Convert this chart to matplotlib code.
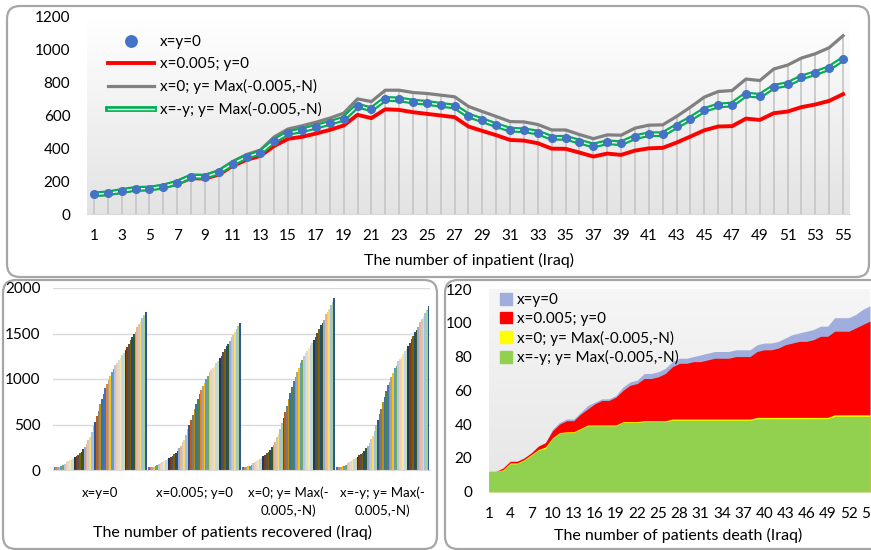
import numpy as np
import matplotlib.pyplot as plt
import matplotlib.patheffects as pe
from matplotlib.colors import LinearSegmentedColormap
from matplotlib.patches import FancyBboxPatch, Patch

plt.rcParams['font.family'] = ['Lato', 'DejaVu Sans']

W, H = 871, 550

days = np.arange(1, 56)

labels = ['x=y=0', 'x=0.005; y=0', 'x=0; y= Max(-0.005,-N)', 'x=-y; y= Max(-0.005,-N)']

# Inpatients per day, one list per scenario
inpatient_xy0 = [120, 126, 140, 153, 155, 167, 191, 228, 226, 254, 307, 348, 374, 445, 494,
                 510, 531, 555, 580, 660, 638, 701, 698, 685, 677, 665, 655, 600, 571, 541,
                 514, 510, 496, 464, 464, 441, 417, 437, 431, 468, 486, 486, 535, 581, 634,
                 661, 667, 728, 720, 775, 791, 832, 858, 889, 944]
inpatient_x005 = [117, 122, 136, 150, 152, 163, 185, 218, 216, 240, 293, 330, 354, 415, 458,
                  470, 490, 512, 539, 604, 584, 638, 634, 620, 610, 600, 590, 533, 506, 480,
                  451, 447, 431, 398, 397, 374, 350, 368, 360, 386, 400, 403, 435, 472, 510,
                  533, 535, 581, 573, 614, 624, 651, 667, 689, 730]
inpatient_ymax = [124, 131, 146, 159, 161, 174, 199, 236, 236, 264, 320, 362, 390, 470, 518,
                  537, 559, 584, 614, 701, 685, 754, 754, 740, 734, 724, 714, 655, 624, 594,
                  563, 561, 545, 512, 512, 484, 459, 482, 480, 523, 541, 543, 594, 651, 712,
                  746, 752, 822, 813, 883, 907, 950, 976, 1013, 1086]
inpatient_xmy = [120, 126, 140, 153, 155, 167, 191, 228, 226, 254, 307, 348, 374, 445, 494,
                 510, 531, 555, 580, 660, 638, 701, 698, 685, 677, 665, 655, 600, 571, 541,
                 514, 510, 496, 464, 464, 441, 417, 437, 431, 468, 486, 486, 535, 581, 634,
                 661, 667, 728, 720, 775, 791, 832, 858, 889, 944]

# Cumulative recovered patients, 55 days per scenario
recovered_xy0 = [30, 32, 35, 38, 42, 55, 70, 85, 95, 105, 115, 125, 140, 155, 170, 185, 200,
                 230, 255, 285, 330, 360, 420, 480, 530, 590, 650, 720, 780, 840, 900, 940,
                 990, 1030, 1080, 1110, 1155, 1180, 1205, 1230, 1265, 1290, 1320, 1350, 1390,
                 1430, 1465, 1490, 1520, 1575, 1600, 1630, 1665, 1700, 1740]
recovered_x005 = [28, 30, 32, 35, 39, 50, 65, 80, 88, 98, 107, 116, 130, 144, 158, 172, 186,
                  214, 237, 265, 307, 335, 390, 446, 493, 549, 605, 670, 725, 781, 837, 874,
                  921, 958, 1004, 1032, 1074, 1097, 1121, 1144, 1176, 1200, 1228, 1256, 1293,
                  1330, 1362, 1386, 1414, 1465, 1488, 1516, 1548, 1581, 1620]
recovered_ymax = [33, 35, 38, 41, 46, 60, 76, 92, 103, 114, 125, 136, 152, 168, 185, 201, 217,
                  250, 277, 310, 358, 391, 456, 521, 576, 641, 706, 782, 847, 912, 977, 1021,
                  1075, 1119, 1173, 1205, 1254, 1282, 1309, 1336, 1374, 1401, 1433, 1466, 1510,
                  1553, 1591, 1618, 1651, 1711, 1738, 1770, 1808, 1846, 1890]
recovered_xmy = [31, 33, 36, 39, 43, 57, 72, 88, 98, 109, 119, 129, 145, 160, 176, 191, 207,
                 238, 264, 295, 341, 372, 434, 496, 548, 610, 672, 745, 807, 869, 931, 972,
                 1024, 1065, 1117, 1148, 1194, 1220, 1246, 1272, 1308, 1334, 1365, 1396, 1437,
                 1478, 1515, 1541, 1572, 1629, 1655, 1686, 1722, 1758, 1800]
recovered_groups = ['x=y=0', 'x=0.005; y=0', 'x=0; y= Max(-\n0.005,-N)', 'x=-y; y= Max(-\n0.005,-N)']

# Cumulative deaths per scenario
death_xy0 = [12, 12, 14, 18, 18, 20, 23, 27, 29, 37, 41, 43, 43, 47, 51, 53, 55, 55, 57, 62,
             65, 66, 70, 70, 71, 73, 77, 79, 79, 80, 81, 82, 83, 83, 83, 84, 84, 84, 87, 88,
             88, 89, 91, 93, 94, 95, 96, 98, 98, 103, 103, 103, 105, 108, 110]
death_x005 = [12, 12, 14, 18, 18, 20, 23, 27, 29, 36, 40, 42, 42, 46, 49, 52, 54, 54, 56, 60,
              63, 64, 67, 67, 68, 70, 74, 76, 76, 77, 77, 78, 79, 79, 79, 80, 80, 80, 83, 84,
              84, 85, 87, 88, 89, 89, 90, 92, 92, 95, 95, 95, 97, 99, 101]
death_ymax = [12, 12, 13, 17, 17, 19, 22, 25, 26.5, 32, 35, 35.5, 35.5, 37.5, 39.5, 39.5, 39.5,
              39.5, 39.5, 41.5, 41.5, 41.5, 42, 42, 42, 42, 43, 43, 43, 43, 43, 43, 43, 43, 43,
              43, 43, 43, 44, 44, 44, 44, 44, 44, 44, 44, 44, 44, 44, 45.5, 45.5, 45.5, 45.5,
              45.5, 45.5]
death_xmy = [12, 12, 12.5, 16.5, 16.5, 18.5, 21.5, 24.5, 25.5, 31.5, 34.5, 35, 35, 37, 39, 39,
             39, 39, 39, 41, 41, 41, 41.5, 41.5, 41.5, 41.5, 42.3, 42.3, 42.3, 42.3, 42.3, 42.3,
             42.3, 42.3, 42.3, 42.3, 42.3, 42.3, 43.2, 43.2, 43.2, 43.2, 43.2, 43.2, 43.2, 43.2,
             43.2, 43.2, 43.2, 44.6, 44.6, 44.6, 44.6, 44.6, 44.6]

# office-style series colours, cycled over the 55 daily bars
bar_palette = ['#4472C4', '#ED7D31', '#A5A5A5', '#FFC000', '#5B9BD5', '#70AD47',
               '#B4C7E7', '#F8CBAD', '#DBDBDB', '#FFE699', '#BDD7EE', '#C5E0B4',
               '#203864', '#843C0C', '#525252', '#7F6000', '#1F4E79', '#385723',
               '#8FAADC', '#F4B183', '#C9C9C9', '#FFD966', '#9DC3E6', '#A9D18E',
               '#2F5597', '#C55A11', '#7B7B7B', '#BF9000', '#2E75B6', '#548235']

fig = plt.figure(figsize=(W / 100, H / 100), dpi=100)


def px_axes(left, top, right, bottom):
    return fig.add_axes([left / W, 1 - bottom / H, (right - left) / W, (bottom - top) / H])


def panel(left, top, right, bottom):
    box = FancyBboxPatch((left / 100, (H - bottom) / 100), (right - left) / 100, (bottom - top) / 100,
                         boxstyle='round,pad=0,rounding_size=0.13', transform=fig.dpi_scale_trans,
                         facecolor='white', edgecolor='#a6a6a6', linewidth=1.6, zorder=-1)
    fig.add_artist(box)


def soft_background(ax, extent, c_top='#ffffff', c_bottom='#e3e3e3'):
    cmap = LinearSegmentedColormap.from_list('bg', [c_top, c_bottom])
    ax.imshow(np.linspace(0, 1, 256).reshape(-1, 1), cmap=cmap, extent=extent,
              aspect='auto', origin='upper', zorder=0)


def clean(ax):
    for s in ['top', 'right', 'left']:
        ax.spines[s].set_visible(False)
    ax.spines['bottom'].set_color('#d9d9d9')
    ax.tick_params(length=0, labelsize=11)
    ax.set_facecolor('none')


panel(7, 6, 869, 277)
panel(3, 280, 437, 549)
panel(445, 280, 890, 549)

# ---- inpatients ----
ax1 = px_axes(87, 17, 850, 214)
clean(ax1)
soft_background(ax1, [0.5, 55.5, 0, 1200])
ax1.vlines(days, 0, inpatient_ymax, colors='#c8c8c8', lw=1.3, zorder=1)
hr, = ax1.plot(days, inpatient_x005, color='#ff0000', lw=2.8, zorder=2, label=labels[1])
hg, = ax1.plot(days, inpatient_ymax, color='#808080', lw=2.3, zorder=2, label=labels[2])
hgr, = ax1.plot(days, inpatient_xmy, color='white', lw=1.0, zorder=3, label=labels[3],
                path_effects=[pe.Stroke(linewidth=4.2, foreground='#00b050'), pe.Normal()])
hb, = ax1.plot(days, inpatient_xy0, 'o', color='#4472C4', ms=5.5, zorder=4, label=labels[0])
ax1.set_xlim(0.5, 55.5)
ax1.set_ylim(0, 1200)
ax1.set_yticks(range(0, 1201, 200))
ax1.set_xticks(range(1, 56, 2))
ax1.tick_params(axis='x', pad=11)
ax1.tick_params(axis='y', pad=12)
ax1.set_xlabel('The number of inpatient (Iraq)', fontsize=11.5)
ax1.xaxis.set_label_coords(0.5, -0.2)
ax1.legend(handles=[hb, hr, hg, hgr], loc='upper left', bbox_to_anchor=(108 / W, 1 - 35 / H),
           bbox_transform=fig.transFigure, frameon=False, fontsize=11, handlelength=3.0,
           handletextpad=0.4, labelspacing=0.52, borderpad=0, borderaxespad=0, markerscale=1.5)

# ---- recovered ----
ax2 = px_axes(53, 288, 430, 470)
clean(ax2)
ax2.grid(axis='y', color='#d9d9d9', lw=1)
ax2.set_axisbelow(True)
gap = 0.015
bw = (1 - gap) / 55
bar_colors = [bar_palette[i % len(bar_palette)] for i in range(55)]
for c, vals in enumerate([recovered_xy0, recovered_x005, recovered_ymax, recovered_xmy]):
    xs = c + gap / 2 + (np.arange(55) + 0.5) * bw
    ax2.bar(xs, vals, width=bw, color=bar_colors, linewidth=0, zorder=2)
ax2.set_xlim(0, 4)
ax2.set_ylim(0, 2000)
ax2.set_yticks(range(0, 2001, 500))
ax2.set_xticks([0.5, 1.5, 2.5, 3.5])
ax2.set_xticklabels(recovered_groups, fontsize=9.5, linespacing=1.45)
ax2.tick_params(axis='x', pad=12)
ax2.tick_params(axis='y', pad=9)
ax2.set_xlabel('The number of patients recovered (Iraq)', fontsize=11.5)
ax2.xaxis.set_label_coords(0.477, -0.3)

# ---- deaths ----
ax3 = px_axes(489, 289, 870, 491.7)
clean(ax3)
soft_background(ax3, [1, 55, 0, 120], '#f6f6f6', '#e6e6e6')
ax3.fill_between(days, death_xy0, color='#9FAEDC', lw=0, zorder=1)
ax3.fill_between(days, death_x005, color='#ff0000', lw=0, zorder=2)
ax3.fill_between(days, death_ymax, color='#ffff00', lw=0, zorder=3)
ax3.fill_between(days, death_xmy, color='#92D050', lw=0, zorder=4)
ax3.set_xlim(1, 55)
ax3.set_ylim(0, 120)
ax3.set_yticks(range(0, 121, 20))
ax3.set_xticks(range(1, 56, 3))
ax3.tick_params(axis='x', pad=11)
ax3.tick_params(axis='y', pad=12)
ax3.set_xlabel('The number of patients death (Iraq)', fontsize=11.5)
ax3.xaxis.set_label_coords(0.496, -0.18)
area_handles = [Patch(color=c, label=l) for c, l in
                zip(['#9FAEDC', '#ff0000', '#ffff00', '#92D050'], labels)]
ax3.legend(handles=area_handles, loc='upper left', bbox_to_anchor=(500 / W, 1 - 293 / H),
           bbox_transform=fig.transFigure, frameon=False, fontsize=11, handlelength=0.8,
           handleheight=0.8, handletextpad=0.3, labelspacing=0.3, borderpad=0, borderaxespad=0)

fig.savefig('out.png', dpi=100)
